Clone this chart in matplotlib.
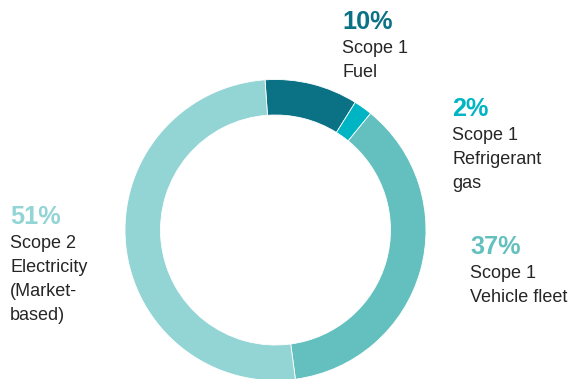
import matplotlib
matplotlib.use("Agg")
import matplotlib.pyplot as plt

plt.rcParams['font.family'] = ['Liberation Sans', 'DejaVu Sans']

# emission shares, clockwise from the top
categories = ["Scope 1\nFuel", "Scope 1\nRefrigerant\ngas", "Scope 1\nVehicle fleet",
              "Scope 2\nElectricity\n(Market-\nbased)"]
shares = [10, 2, 37, 51]
pct_labels = ["10%", "2%", "37%", "51%"]
colors = ["#0b7286", "#00b5c3", "#64c0be", "#93d4d5"]

# label anchor (left x, baseline y of the percentage) in pixels from top-left
label_pos = [(342.5, 29), (452.5, 116), (470.5, 253.5), (10, 224)]

W, H = 574, 379
fig = plt.figure(figsize=(W / 100, H / 100), dpi=100)
ax = fig.add_axes([0, 0, 1, 1])

ax.pie(shares, colors=colors, startangle=94, counterclock=False,
       radius=150.5, center=(275.5, H - 230),
       wedgeprops=dict(width=35.5, edgecolor='white', linewidth=0.6))

for cat, pct, col, (x, y) in zip(categories, pct_labels, colors, label_pos):
    ax.text(x, H - y, pct, color=col, fontsize=18.2, fontweight='bold',
            ha='left', va='baseline')
    for i, line in enumerate(cat.split("\n")):
        ax.text(x, H - (y + 24 * (i + 1)), line, color='#262626', fontsize=13,
                ha='left', va='baseline')

ax.set_xlim(0, W)
ax.set_ylim(0, H)
ax.set_aspect('equal')
ax.set_axis_off()

fig.savefig("out.png", dpi=100)
